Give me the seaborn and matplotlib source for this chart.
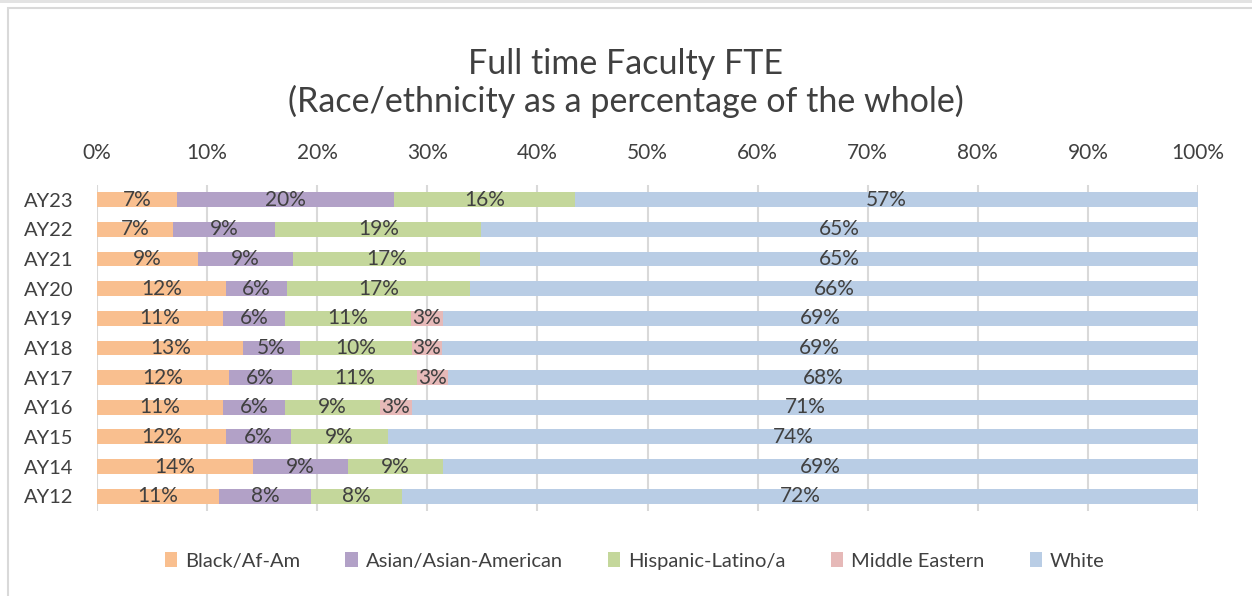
import numpy as np
import pandas as pd
import seaborn as sns
import matplotlib.pyplot as plt
from matplotlib.patches import Patch, Rectangle

# data (percent of whole)
years = ['AY23', 'AY22', 'AY21', 'AY20', 'AY19', 'AY18', 'AY17', 'AY16', 'AY15', 'AY14', 'AY12']
black = [7.3, 6.9, 9.2, 11.7, 11.4, 13.3, 12.0, 11.4, 11.7, 14.2, 11.1]
asian = [19.7, 9.3, 8.6, 5.6, 5.7, 5.1, 5.7, 5.7, 5.9, 8.6, 8.3]
hispanic = [16.4, 18.7, 17.0, 16.6, 11.4, 10.2, 11.4, 8.6, 8.8, 8.6, 8.3]
mideast = [0, 0, 0, 0, 2.9, 2.7, 2.8, 2.9, 0, 0, 0]
white = [56.6, 65.1, 65.2, 66.1, 68.6, 68.7, 68.1, 71.4, 73.6, 68.6, 72.3]

groups = ['Black/Af-Am', 'Asian/Asian-American', 'Hispanic-Latino/a', 'Middle Eastern', 'White']
colors = ['#F9BF8F', '#B2A1C7', '#C4D79B', '#E6B9B8', '#B9CDE5']

df = pd.DataFrame({'year': years, groups[0]: black, groups[1]: asian,
                   groups[2]: hispanic, groups[3]: mideast, groups[4]: white})
cum = df[groups].cumsum(axis=1)

sns.set_theme(style='white')
plt.rcParams['font.family'] = ['Lato', 'DejaVu Sans']
txt = '#404040'

fig = plt.figure(figsize=(12.52, 5.96), dpi=100)
ax = fig.add_axes([97 / 1252, 1 - 511 / 596, 1101 / 1252, 326 / 596])

# outer chart frame
fig.patches.append(Rectangle((8 / 1252, -0.1), 1.2, (596 - 8) / 596 + 0.1,
                             transform=fig.transFigure, fill=False,
                             edgecolor='#D9D9D9', linewidth=1.5))
fig.patches.append(Rectangle((0, 1 - 3 / 596), 1, 3 / 596, transform=fig.transFigure,
                             color='#E3E3E3', linewidth=0))

# stacked: draw cumulative totals, widest first
for g, c in reversed(list(zip(groups, colors))):
    sns.barplot(x=cum[g], y=df['year'], color=c, width=0.5, orient='h',
                ax=ax, saturation=1, linewidth=0, zorder=3)

# data labels centred in each segment
for g in groups:
    left = cum[g] - df[g]
    for i, v in enumerate(df[g]):
        if v > 0:
            ax.text(left[i] + v / 2, i, f'{v:.0f}%', ha='center', va='center',
                    fontsize=15, color=txt, zorder=5)

ax.set_xlim(0, 100)
ax.set_ylim(len(years) - 0.5, -0.5)
ax.set_xticks(np.arange(0, 101, 10))
ax.set_xticklabels([f'{t}%' for t in range(0, 101, 10)])
ax.xaxis.tick_top()
ax.grid(axis='x', color='#D9D9D9', linewidth=1.5, zorder=0)
ax.grid(axis='y', visible=False)
ax.tick_params(axis='both', length=0, labelsize=15, colors=txt)
ax.tick_params(axis='y', labelsize=14.5)
ax.tick_params(axis='x', pad=16)
ax.tick_params(axis='y', pad=17)
ax.set_xlabel('')
ax.set_ylabel('')
for s in ax.spines.values():
    s.set_visible(False)

fig.text(0.5, 1 - 64 / 596, 'Full time Faculty FTE', ha='center', va='center',
         fontsize=24.5, color=txt)
fig.text(0.5, 1 - 101 / 596, '(Race/ethnicity as a percentage of the whole)',
         ha='center', va='center', fontsize=24.5, color=txt)

handles = [Patch(facecolor=c, edgecolor='none', label=g) for g, c in zip(groups, colors)]
fig.legend(handles=handles, loc='center', bbox_to_anchor=(0.507, 1 - 561 / 596),
           ncol=5, frameon=False, fontsize=14.5, handlelength=0.6, handleheight=0.7,
           handletextpad=0.4, columnspacing=2.25, labelcolor=txt)

fig.savefig('out.png', dpi=100)
